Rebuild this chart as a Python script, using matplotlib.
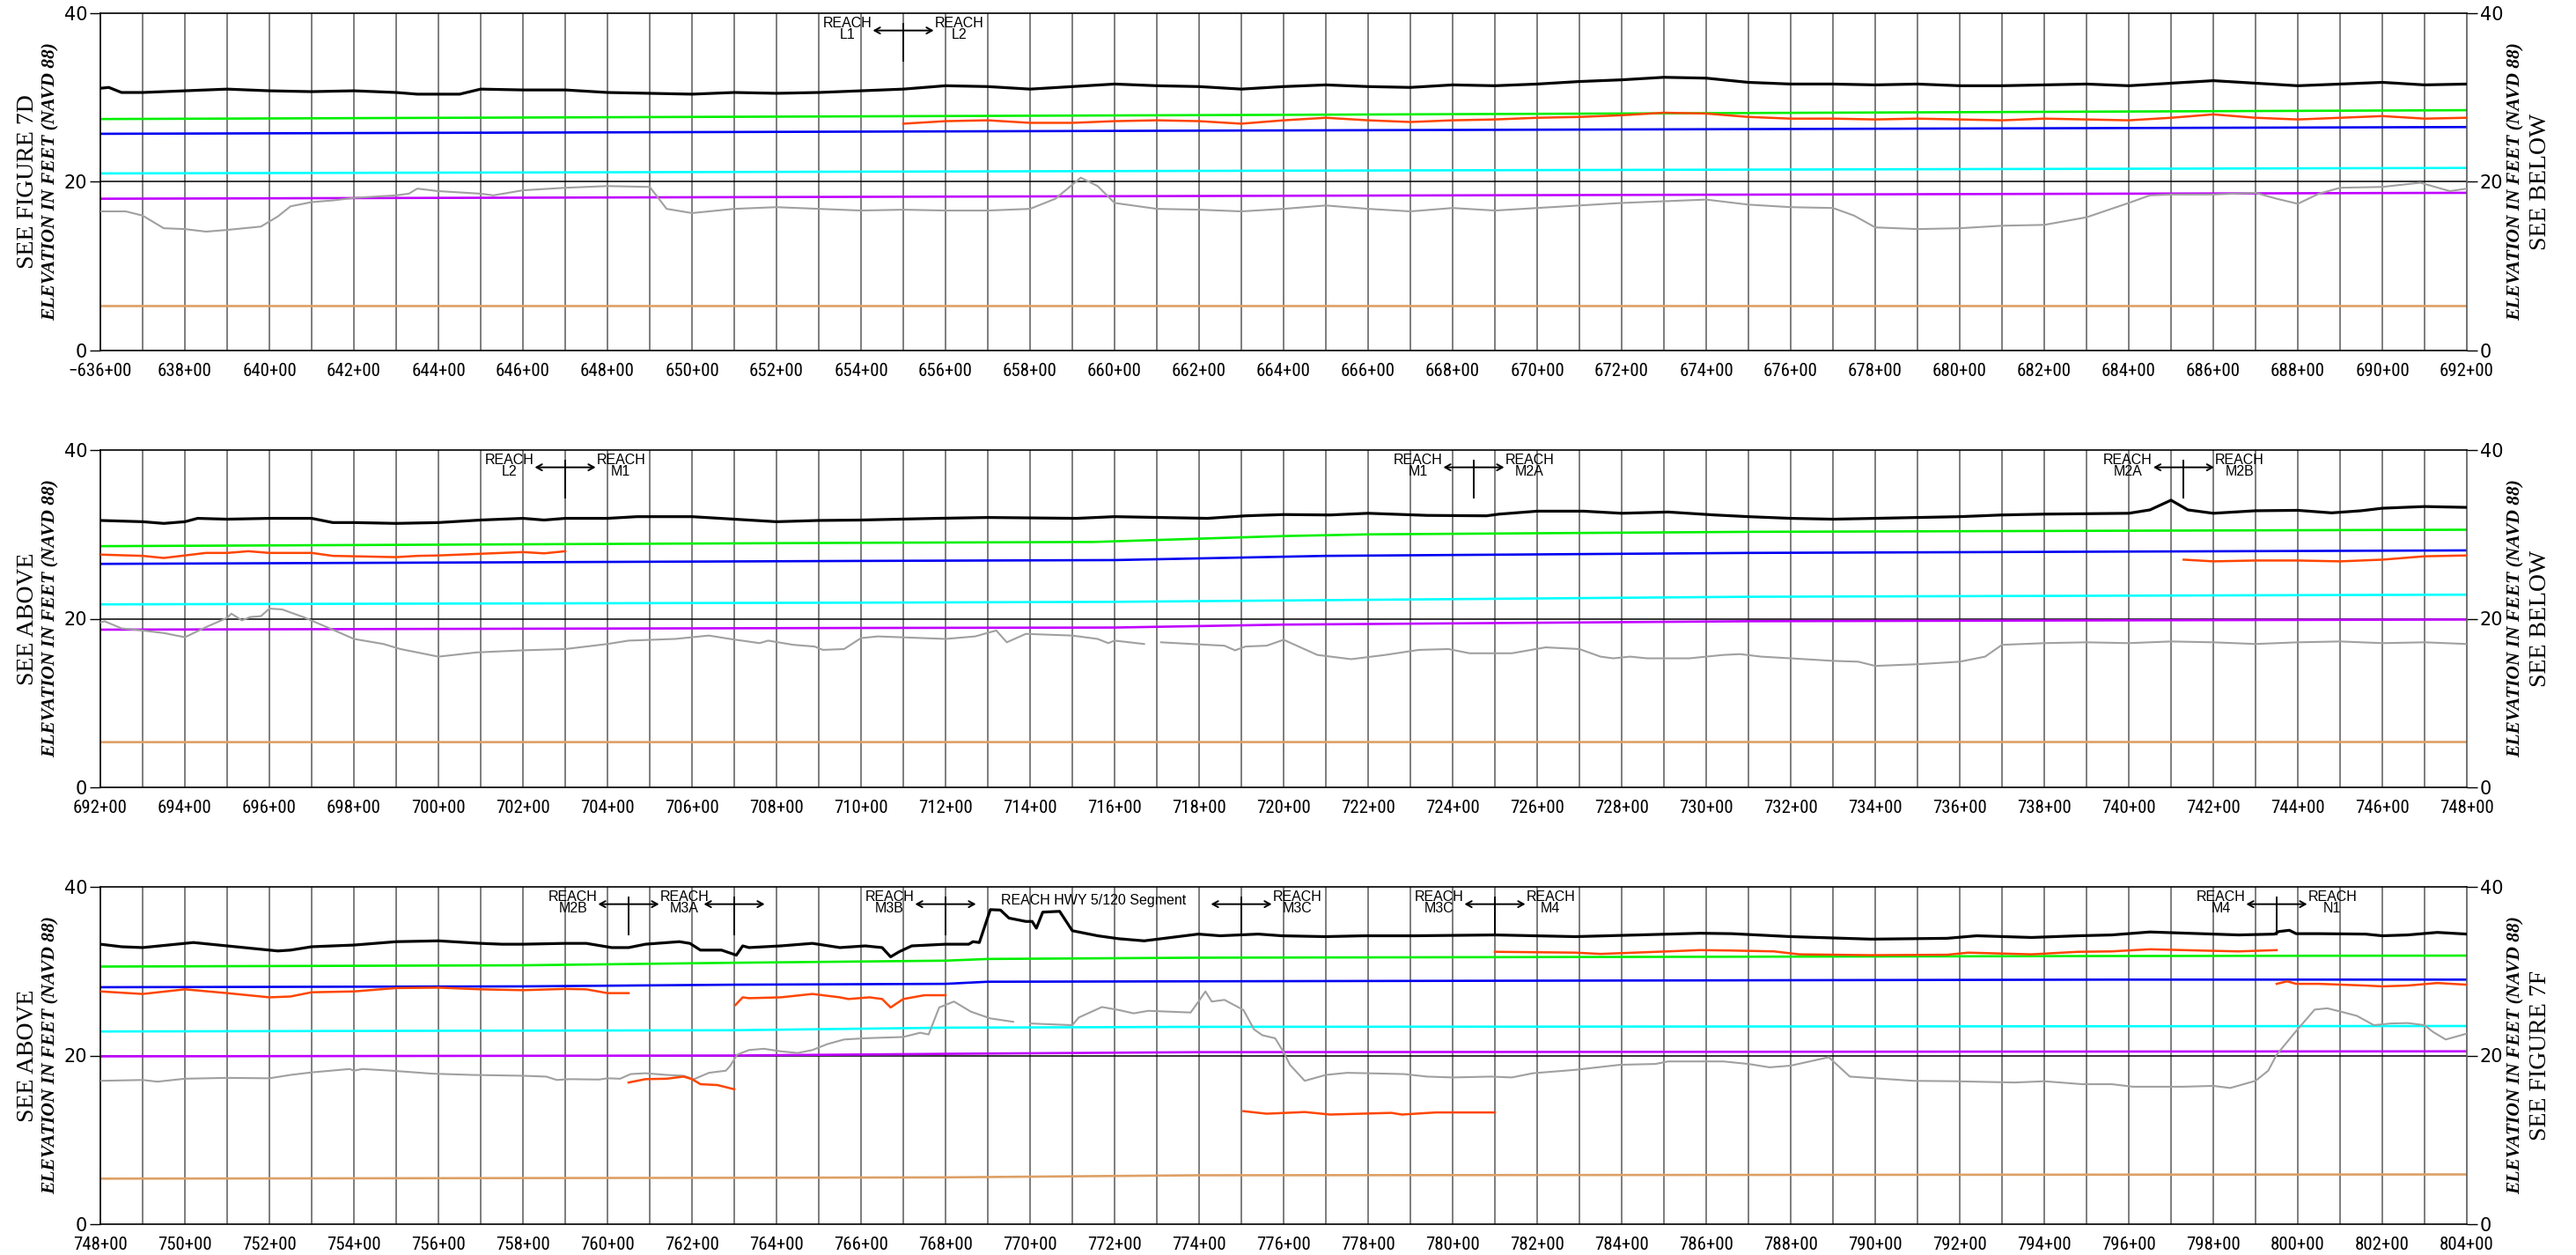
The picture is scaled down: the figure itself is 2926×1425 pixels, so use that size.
import matplotlib
matplotlib.use('Agg')
import matplotlib.pyplot as plt
import numpy as np
from matplotlib import font_manager as fm

# ---------------- DATA ----------------
# Panel station ranges (in 100 ft stations)
top_range = (636, 692)
mid_range = (692, 748)
bot_range = (748, 804)

# ---- TOP PANEL ----
top_sta_black = [636, 636.2, 636.5, 637, 638, 639, 640, 641, 642, 643, 643.5, 644, 644.5, 645, 646, 647, 648, 649, 650,
                 651, 652, 653, 654, 655, 656, 657, 658, 659, 660, 661, 662, 663, 664, 665, 666, 667, 668, 669, 670,
                 671, 672, 673, 674, 675, 676, 677, 678, 679, 680, 681, 682, 683, 684, 685, 686, 687, 688, 689, 690,
                 691, 692]
top_black = [31.1, 31.2, 30.6, 30.6, 30.8, 31.0, 30.8, 30.7, 30.8, 30.6, 30.4, 30.4, 30.4, 31.0, 30.9, 30.9, 30.6, 30.5,
             30.4, 30.6, 30.5, 30.6, 30.8, 31.0, 31.4, 31.3, 31.0, 31.3, 31.6, 31.4, 31.3, 31.0, 31.3, 31.5, 31.3, 31.2,
             31.5, 31.4, 31.6, 31.9, 32.1, 32.4, 32.3, 31.8, 31.6, 31.6, 31.5, 31.6, 31.4, 31.4, 31.5, 31.6, 31.4,
             31.7, 32.0, 31.7, 31.4, 31.6, 31.8, 31.5, 31.6]
top_sta_red = [655, 656, 657, 658, 659, 660, 661, 662, 663, 664, 665, 666, 667, 668, 669, 670, 671, 672, 673, 674, 675,
               676, 677, 678, 679, 680, 681, 682, 683, 684, 685, 686, 687, 688, 689, 690, 691, 692]
top_red = [26.9, 27.2, 27.3, 27.0, 27.0, 27.2, 27.3, 27.2, 26.9, 27.3, 27.6, 27.3, 27.1, 27.3, 27.4, 27.6, 27.7, 27.9,
           28.2, 28.1, 27.7, 27.5, 27.5, 27.4, 27.5, 27.4, 27.3, 27.5, 27.4, 27.3, 27.6, 28.0, 27.6, 27.4, 27.6, 27.8,
           27.5, 27.6]
top_sta_gray = [636, 636.6, 637, 637.5, 638, 638.5, 639, 639.8, 640.2, 640.5, 641, 641.5, 642, 643, 643.3, 643.5, 644,
                645, 645.3, 646, 647, 648, 649, 649.4, 650, 651, 652, 653, 654, 655, 656, 657, 658, 658.6, 659.2, 659.6,
                660, 661, 662, 663, 664, 665, 666, 667, 668, 669, 670, 671, 672, 673, 674, 675, 676, 677, 677.5, 678,
                679, 680, 681, 682, 683, 684, 684.5, 685, 686, 687, 687.5, 688, 688.5, 689, 690, 690.9, 691.6, 692]
top_gray = [16.5, 16.5, 16.0, 14.5, 14.4, 14.1, 14.3, 14.7, 15.9, 17.1, 17.6, 17.8, 18.1, 18.4, 18.6, 19.2, 18.9,
            18.6, 18.4, 19.0, 19.3, 19.5, 19.4, 16.8, 16.3, 16.8, 17.0, 16.8, 16.6, 16.7, 16.6, 16.6, 16.8, 18.0, 20.5,
            19.5, 17.5, 16.8, 16.7, 16.5, 16.8, 17.2, 16.8, 16.5, 16.9, 16.6, 16.9, 17.2, 17.5, 17.7, 17.9, 17.3,
            17.0, 16.9, 16.0, 14.6, 14.4, 14.5, 14.8, 14.9, 15.8, 17.5, 18.4, 18.5, 18.5, 18.7, 18.0, 17.4, 18.6,
            19.3, 19.4, 19.9, 18.9, 19.2]
top_sta_green, top_green = [636, 664, 692], [27.45, 27.95, 28.5]
top_sta_blue, top_blue = [636, 692], [25.7, 26.5]
top_sta_cyan, top_cyan = [636, 692], [21.0, 21.65]
top_sta_purple, top_purple = [636, 692], [18.0, 18.7]
top_sta_tan, top_tan = [636, 692], [5.3, 5.3]

# ---- MIDDLE PANEL ----
mid_sta_black = [692, 693, 693.5, 694, 694.3, 695, 696, 697, 697.5, 698, 699, 700, 701, 702, 702.5, 703, 704, 704.7,
                 706, 707, 708, 709, 710, 711.8, 713, 715.1, 716, 718.2, 719.1, 720, 721.1, 722, 723.4, 724.8, 725.1,
                 726, 727.1, 728, 729.1, 730.2, 731, 732, 733, 734, 735, 736, 737, 738, 739, 740, 740.5, 741, 741.4,
                 742, 743, 744, 744.8, 745.5, 746, 747, 748]
mid_black = [31.65, 31.5, 31.3, 31.5, 31.9, 31.8, 31.9, 31.9, 31.4, 31.4, 31.3, 31.4, 31.7, 31.9, 31.7, 31.9, 31.9,
             32.1, 32.1, 31.8, 31.5, 31.65, 31.7, 31.9, 32.0, 31.9, 32.1, 31.9, 32.2, 32.35, 32.3, 32.5, 32.25, 32.2,
             32.4, 32.75, 32.75, 32.5, 32.65, 32.3, 32.1, 31.9, 31.8, 31.9, 32.0, 32.1, 32.3, 32.4, 32.45, 32.5, 32.9,
             34.05, 32.9, 32.5, 32.8, 32.85, 32.55, 32.8, 33.1, 33.3, 33.2]
mid_sta_red1 = [692, 693, 693.5, 694, 694.5, 695, 695.5, 696, 697, 697.5, 698, 699, 699.5, 700, 701, 702, 702.5, 703]
mid_red1 = [27.6, 27.45, 27.2, 27.5, 27.8, 27.8, 28.0, 27.8, 27.8, 27.45, 27.4, 27.3, 27.45, 27.5, 27.7, 27.9, 27.75,
            28.0]
mid_sta_red2 = [741.3, 742, 743, 744, 745, 746, 747, 748]
mid_red2 = [27.0, 26.8, 26.9, 26.9, 26.8, 27.0, 27.4, 27.5]
mid_sta_gray = [692, 692.1, 692.5, 693, 693.5, 694, 694.5, 695, 695.1, 695.35, 695.55, 695.8, 696, 696.3, 696.8,
                697.5, 698, 698.7, 699.1, 700, 700.9, 702, 703, 704, 704.5, 705.6, 706.4, 706.9, 707.6, 707.8, 708.4,
                708.9, 709.1, 709.6, 710, 710.4, 712, 712.7, 713.2, 713.45, 713.9, 715.0, 715.6, 715.85, 716.0, 716.7,
                716.9, 717.1, 718.2, 718.6, 718.85, 719.1, 719.6, 720.0, 720.8, 721.6, 722.4, 723.2, 723.9, 724.4,
                725.4, 726.2, 727, 727.5, 727.8, 728.2, 728.6, 729.6, 730.4, 730.8, 731.3, 732, 733, 733.6, 734, 735,
                736, 736.6, 737, 738, 739, 740, 741, 742, 743, 744, 745, 746, 747, 748]
mid_gray = [19.55, 19.7, 18.85, 18.6, 18.3, 17.8, 19.0, 20.1, 20.6, 19.8, 20.2, 20.3, 21.2, 21.1, 20.2, 18.7, 17.6,
            17.0, 16.4, 15.5, 16.0, 16.25, 16.4, 17.0, 17.4, 17.6, 18.0, 17.6, 17.1, 17.4, 16.9, 16.7, 16.3, 16.4,
            17.7, 17.9, 17.6, 17.9, 18.6, 17.2, 18.2, 18.0, 17.6, 17.1, 17.4, 17.0, np.nan, 17.2, 16.9, 16.8, 16.25,
            16.7, 16.8, 17.5, 15.7, 15.2, 15.7, 16.3, 16.4, 15.9, 15.9, 16.6, 16.4, 15.5, 15.3, 15.5, 15.3, 15.3,
            15.7, 15.8, 15.5, 15.3, 15.0, 14.9, 14.4, 14.6, 14.9, 15.5, 16.9, 17.1, 17.2, 17.1, 17.3, 17.2, 17.0,
            17.2, 17.3, 17.1, 17.2, 17.0]
mid_sta_green, mid_green = [692, 710, 715.5, 720, 722, 731, 748], [28.6, 29.0, 29.1, 29.8, 30.0, 30.3, 30.55]
mid_sta_blue, mid_blue = [692, 710, 716, 721, 731, 748], [26.5, 26.85, 26.95, 27.45, 27.8, 28.1]
mid_sta_cyan, mid_cyan = [692, 710, 716, 731, 748], [21.7, 21.9, 22.0, 22.6, 22.85]
mid_sta_purple, mid_purple = [692, 710, 716, 720, 731, 748], [18.7, 18.9, 18.95, 19.3, 19.7, 19.9]
mid_sta_tan, mid_tan = [692, 748], [5.36, 5.38]

# ---- BOTTOM PANEL ----
bot_sta_black = [748, 748.5, 749, 750, 750.2, 751, 752, 752.2, 752.5, 753, 754, 755, 756, 757, 757.5, 758, 759, 759.5,
                 760.1, 760.5, 760.9, 761.7, 761.95, 762.2, 762.7, 763.05, 763.2, 763.35, 764.1, 764.85, 765.5, 766.1,
                 766.5, 766.7, 766.9, 767.2, 768.0, 768.55, 768.65, 768.8, 769.06, 769.3, 769.5, 769.9, 770.05, 770.15,
                 770.3, 770.7, 771.0, 771.6, 772.1, 772.7, 773.98, 774.5, 775.4, 775.96, 776.98, 777.9, 779.1, 781,
                 782.9, 784.4, 785.85, 786.6, 788, 789.9, 791.7, 792.4, 793.7, 794.8, 795.6, 796.5, 797.7, 798.6,
                 799.45, 799.55, 799.8, 799.96, 800.5, 801.6, 802, 802.6, 803.3, 804]
bot_black = [33.2, 32.9, 32.8, 33.3, 33.4, 33.0, 32.5, 32.4, 32.5, 32.9, 33.1, 33.5, 33.6, 33.3, 33.2, 33.2, 33.3,
             33.3, 32.8, 32.8, 33.2, 33.5, 33.3, 32.5, 32.5, 31.9, 33.0, 32.8, 33.0, 33.3, 32.8, 33.0, 32.8, 31.7,
             32.3, 33.0, 33.2, 33.2, 33.5, 33.4, 37.3, 37.25, 36.3, 35.9, 35.9, 35.1, 37.0, 37.1, 34.8, 34.2, 33.85,
             33.6, 34.4, 34.2, 34.4, 34.2, 34.1, 34.2, 34.2, 34.3, 34.1, 34.3, 34.5, 34.45, 34.1, 33.8, 33.9, 34.2,
             34.0, 34.2, 34.3, 34.65, 34.45, 34.3, 34.4, 34.7, 34.85, 34.45, 34.45, 34.4, 34.2, 34.3, 34.6, 34.4]
bot_sta_red1 = [748, 749, 750, 751, 752, 752.5, 753, 754, 755, 756, 757, 758, 759, 759.5, 760, 760.5]
bot_red1 = [27.6, 27.3, 27.85, 27.4, 26.9, 27.0, 27.5, 27.6, 28.0, 28.05, 27.85, 27.75, 27.9, 27.85, 27.4, 27.4]
bot_sta_red2 = [760.5, 760.9, 761.4, 761.8, 762.0, 762.2, 762.6, 763.0]
bot_red2 = [16.8, 17.2, 17.25, 17.5, 17.2, 16.6, 16.5, 16.0]
bot_sta_red3 = [763.03, 763.2, 763.35, 764.1, 764.85, 765.5, 765.7, 766.2, 766.5, 766.7, 767.0, 767.5, 768.0]
bot_red3 = [26.0, 26.9, 26.8, 26.9, 27.3, 26.9, 26.7, 26.9, 26.7, 25.7, 26.7, 27.15, 27.15]
bot_sta_red4 = [775.05, 775.6, 776.5, 777.1, 778.55, 778.8, 779.6, 781.0]
bot_red4 = [13.4, 13.1, 13.3, 13.0, 13.2, 13.0, 13.25, 13.25]
bot_sta_red5 = [781, 782.9, 783.5, 785.1, 785.85, 786.6, 787.6, 788.2, 789.9, 791.7, 792.2, 793.7, 794.8, 795.6,
                796.5, 797.7, 798.6, 799.5]
bot_red5 = [32.3, 32.2, 32.05, 32.35, 32.5, 32.45, 32.35, 32.0, 31.9, 31.95, 32.2, 32.0, 32.3, 32.35, 32.6, 32.45,
            32.35, 32.5]
bot_sta_red6 = [799.5, 799.75, 799.96, 800.5, 801.6, 802, 802.6, 803.3, 804]
bot_red6 = [28.5, 28.8, 28.5, 28.5, 28.3, 28.2, 28.3, 28.6, 28.4]
bot_sta_gray = [748, 749, 749.35, 750, 751, 752, 752.5, 753, 753.9, 754, 754.2, 754.9, 755.85, 756.8, 758, 758.55,
                758.8, 759.1, 759.8, 760.0, 760.3, 760.55, 760.9, 761.4, 761.8, 762.05, 762.4, 762.8, 762.9, 763.07,
                763.35, 763.7, 764.1, 764.5, 764.85, 765.2, 765.6, 766.1, 767.0, 767.4, 767.6, 767.85, 768.2, 768.6,
                769.06, 769.6, 769.8, 770.0, 771.0, 771.15, 771.7, 772.1, 772.45, 772.8, 773.8, 774.0, 774.15, 774.3,
                774.6, 775.05, 775.3, 775.5, 775.8, 776.0, 776.15, 776.5, 777.0, 777.5, 777.97, 778.85, 779.4, 780.0,
                780.9, 781.4, 781.9, 782.9, 783.96, 784.8, 785.1, 786.4, 787.0, 787.5, 788.0, 788.9, 789.4, 790.9,
                791.9, 793.3, 794.0, 794.9, 795.6, 796.1, 797.3, 798.0, 798.4, 799.0, 799.3, 799.5, 799.96, 800.4,
                800.7, 801.1, 801.4, 801.8, 802.2, 802.6, 803.0, 803.2, 803.5, 804.0]
bot_gray = [17.0, 17.1, 16.9, 17.25, 17.35, 17.3, 17.7, 18.0, 18.4, 18.2, 18.4, 18.2, 17.85, 17.7, 17.6, 17.5, 17.1,
            17.2, 17.15, 17.3, 17.25, 17.8, 17.9, 17.7, 17.6, 17.2, 17.95, 18.2, 18.75, 20.1, 20.65, 20.8, 20.5, 20.3,
            20.65, 21.35, 21.9, 22.05, 22.2, 22.7, 22.5, 25.7, 26.4, 25.2, 24.4, 24.0, np.nan, 23.8, 23.6, 24.5, 25.75,
            25.4, 25.0, 25.3, 25.1, 26.5, 27.6, 26.4, 26.6, 25.4, 23.1, 22.4, 22.05, 20.4, 18.9, 17.0, 17.7, 17.95,
            17.9, 17.8, 17.5, 17.4, 17.5, 17.4, 17.9, 18.3, 18.9, 19.0, 19.3, 19.3, 19.0, 18.6, 18.8, 19.8, 17.5,
            17.0, 16.95, 16.8, 16.95, 16.6, 16.6, 16.3, 16.3, 16.4, 16.15, 17.0, 18.2, 20.1, 22.9, 25.45, 25.6, 25.1,
            24.7, 23.6, 23.8, 23.85, 23.6, 22.8, 21.9, 22.6]
bot_sta_green, bot_green = [748, 758, 763, 768, 769, 774, 795.6, 804], [30.55, 30.7, 31.0, 31.25, 31.45, 31.6, 31.8, 31.85]
bot_sta_blue, bot_blue = [748, 758, 763, 768, 769, 774, 795.6, 804], [28.1, 28.2, 28.4, 28.5, 28.75, 28.8, 29.0, 29.0]
bot_sta_cyan, bot_cyan = [748, 763, 768, 774, 804], [22.85, 23.0, 23.3, 23.4, 23.5]
bot_sta_purple, bot_purple = [748, 763, 768, 774, 804], [19.9, 20.0, 20.2, 20.4, 20.5]
bot_sta_tan, bot_tan = [748, 763, 768, 774, 804], [5.4, 5.5, 5.55, 5.8, 5.9]

# Reach boundaries: (station, left reach name, right reach name)
top_reaches = [(655.0, 'L1', 'L2')]
mid_reaches = [(703.0, 'L2', 'M1'), (724.5, 'M1', 'M2A'), (741.3, 'M2A', 'M2B')]
bot_reaches = [(760.5, 'M2B', 'M3A'), (763.0, None, None), (768.0, 'M3B', None), (775.0, None, 'M3C'),
               (781.0, 'M3C', 'M4'), (799.5, 'M4', 'N1')]
bot_segment_label = (771.5, 'REACH HWY 5/120 Segment')

left_notes = ['SEE FIGURE 7D', 'SEE ABOVE', 'SEE ABOVE']
right_notes = ['SEE BELOW', 'SEE BELOW', 'SEE FIGURE 7F']
axis_title = 'ELEVATION IN FEET (NAVD 88)'
y_ticks = [0, 20, 40]

# ---------------- STYLE ----------------
W, H = 2926, 1425
fig = plt.figure(figsize=(W / 100, H / 100), dpi=100)

# pick a condensed sans for station labels if one is installed
narrow = None
tick_size = 13.5
for f in fm.fontManager.ttflist:
    if f.name in ('Liberation Sans Narrow', 'Arial Narrow', 'Roboto Condensed', 'DejaVu Sans Condensed',
                  'Open Sans Condensed'):
        narrow = f.name
        break
if narrow is None:
    for f in fm.fontManager.ttflist:
        if str(f.stretch) in ('condensed', 'semi-condensed', 'extra-condensed') and f.style == 'normal':
            narrow = f.name
            break
if narrow is None:
    narrow = 'Liberation Sans'
    tick_size = 13.0
else:
    tick_size = 15.0

sans = 'Liberation Sans'
serif = 'Liberation Serif'

C_BLACK = '#000000'
C_GREEN = '#00F000'
C_BLUE = '#0000F0'
C_CYAN = '#00FFFF'
C_PURPLE = '#C000FF'
C_TAN = '#DDA066'
C_RED = '#FF4500'
C_GRAY = '#A0A0A0'
C_GRID = '#5A5A5A'

L_PX, R_PX = 114, 2802
panel_tops = [15, 511, 1007]
panel_h = 383


def station_label(s, first_minus=False):
    txt = f"{s}+00"
    return ('\u2212' + txt) if first_minus else txt


panels = [
    dict(rng=top_range, black=(top_sta_black, top_black), reds=[(top_sta_red, top_red)],
         gray=(top_sta_gray, top_gray), green=(top_sta_green, top_green), blue=(top_sta_blue, top_blue),
         cyan=(top_sta_cyan, top_cyan), purple=(top_sta_purple, top_purple), tan=(top_sta_tan, top_tan),
         reaches=top_reaches, seg=None, minus=True),
    dict(rng=mid_range, black=(mid_sta_black, mid_black), reds=[(mid_sta_red1, mid_red1), (mid_sta_red2, mid_red2)],
         gray=(mid_sta_gray, mid_gray), green=(mid_sta_green, mid_green), blue=(mid_sta_blue, mid_blue),
         cyan=(mid_sta_cyan, mid_cyan), purple=(mid_sta_purple, mid_purple), tan=(mid_sta_tan, mid_tan),
         reaches=mid_reaches, seg=None, minus=False),
    dict(rng=bot_range, black=(bot_sta_black, bot_black),
         reds=[(bot_sta_red1, bot_red1), (bot_sta_red2, bot_red2), (bot_sta_red3, bot_red3),
               (bot_sta_red4, bot_red4), (bot_sta_red5, bot_red5), (bot_sta_red6, bot_red6)],
         gray=(bot_sta_gray, bot_gray), green=(bot_sta_green, bot_green), blue=(bot_sta_blue, bot_blue),
         cyan=(bot_sta_cyan, bot_cyan), purple=(bot_sta_purple, bot_purple), tan=(bot_sta_tan, bot_tan),
         reaches=bot_reaches, seg=bot_segment_label, minus=False),
]

for i, p in enumerate(panels):
    top = panel_tops[i]
    rect = [L_PX / W, 1 - (top + panel_h) / H, (R_PX - L_PX) / W, panel_h / H]
    ax = fig.add_axes(rect)
    x0, x1 = p['rng']
    ax.set_xlim(x0, x1)
    ax.set_ylim(0, 40)
    ax.set_axisbelow(True)

    # vertical station grid
    for s in range(x0 + 1, x1):
        ax.axvline(s, color=C_GRID, lw=1.1, zorder=0.5)
    ax.axhline(20, color='black', lw=1.1, zorder=1)

    ax.plot(*p['tan'], color=C_TAN, lw=1.9, zorder=2)
    ax.plot(*p['purple'], color=C_PURPLE, lw=1.9, zorder=2)
    ax.plot(*p['cyan'], color=C_CYAN, lw=1.9, zorder=2)
    ax.plot(*p['blue'], color=C_BLUE, lw=1.9, zorder=2)
    ax.plot(*p['green'], color=C_GREEN, lw=1.9, zorder=2)
    ax.plot(*p['gray'], color=C_GRAY, lw=1.5, zorder=3)
    for sx, sy in p['reds']:
        ax.plot(sx, sy, color=C_RED, lw=1.8, zorder=3)
    ax.plot(*p['black'], color=C_BLACK, lw=2.3, zorder=4)

    # reach boundary markers
    for st, lname, rname in p['reaches']:
        ax.plot([st, st], [38.75, 34.35], color='black', lw=1.4, zorder=5)
        ax.annotate('', xy=(st + 0.72, 37.95), xytext=(st - 0.72, 37.95),
                    arrowprops=dict(arrowstyle='<->,head_length=0.45,head_width=0.25', lw=1.4,
                                    color='black', shrinkA=0, shrinkB=0), zorder=5)
        for name, xc in ((lname, st - 1.32), (rname, st + 1.32)):
            if name:
                ax.text(xc, 38.75, 'REACH', ha='center', va='center', fontsize=11.5, family=sans, zorder=6)
                ax.text(xc, 37.45, name, ha='center', va='center', fontsize=11.5, family=sans, zorder=6)
    if p['seg']:
        ax.text(p['seg'][0], 38.35, p['seg'][1], ha='center', va='center', fontsize=11.5, family=sans, zorder=6)

    # ticks
    majors = list(range(x0, x1 + 1, 2))
    ax.set_xticks(majors)
    ax.set_xticklabels([station_label(s, p['minus'] and s == x0) for s in majors],
                       family=narrow, fontsize=tick_size)
    ax.tick_params(axis='x', length=0, pad=10)
    ax.set_yticks(y_ticks)
    ax.set_yticklabels([str(v) for v in y_ticks], family='DejaVu Sans', fontsize=15)
    ax.tick_params(axis='y', direction='out', length=8.6, width=1.0, left=True, right=True,
                   labelleft=True, labelright=True, pad=2)
    for sp in ['left', 'top', 'bottom']:
        ax.spines[sp].set_linewidth(1.2)
        ax.spines[sp].set_color('black')
    ax.spines['right'].set_color(C_GRID)
    ax.spines['right'].set_linewidth(1.2)

    # side notes
    yc = 1 - (top + panel_h / 2) / H
    fig.text(32 / W, yc, left_notes[i], rotation=90, ha='center', va='center', fontsize=20, family=serif)
    fig.text(58 / W, yc, axis_title, rotation=90, ha='center', va='center', fontsize=15.5,
             family=serif, weight='bold', style='italic')
    fig.text(2858 / W, yc, axis_title, rotation=90, ha='center', va='center', fontsize=15.5,
             family=serif, weight='bold', style='italic')
    fig.text(2886 / W, yc, right_notes[i], rotation=90, ha='center', va='center', fontsize=20, family=serif)

fig.savefig('out.png', dpi=100, facecolor='white')
